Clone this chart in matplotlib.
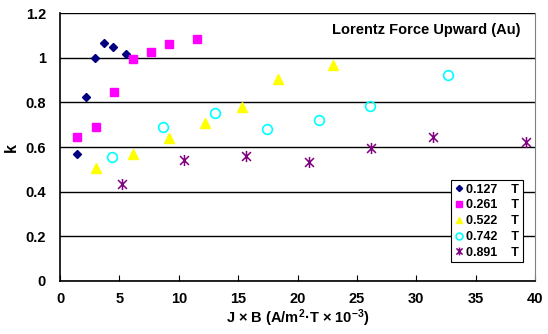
import matplotlib
matplotlib.use('Agg')
import matplotlib.pyplot as plt
from matplotlib.path import Path

plt.rcParams['font.family'] = ['Liberation Sans', 'DejaVu Sans']
plt.rcParams['font.weight'] = 'bold'
plt.rcParams['mathtext.fontset'] = 'custom'
plt.rcParams['mathtext.rm'] = 'Liberation Sans:bold'
plt.rcParams['mathtext.bf'] = 'Liberation Sans:bold'
plt.rcParams['mathtext.default'] = 'bf'

# data
x_0127 = [1.46, 2.19, 2.95, 3.68, 4.43, 5.56]
k_0127 = [0.570, 0.825, 0.999, 1.066, 1.046, 1.017]
x_0261 = [1.46, 3.03, 4.57, 6.12, 7.66, 9.21, 11.51]
k_0261 = [0.646, 0.691, 0.846, 0.993, 1.026, 1.063, 1.084]
x_0522 = [3.03, 6.12, 9.21, 12.24, 15.33, 18.39, 23.0]
k_0522 = [0.508, 0.567, 0.642, 0.708, 0.779, 0.905, 0.966]
x_0742 = [4.35, 8.70, 13.05, 17.40, 21.78, 26.13, 32.7]
k_0742 = [0.554, 0.691, 0.754, 0.681, 0.721, 0.784, 0.922]
x_0891 = [5.22, 10.47, 15.69, 20.94, 26.16, 31.41, 39.27]
k_0891 = [0.434, 0.542, 0.561, 0.534, 0.597, 0.645, 0.624]

# Excel style star: X with a vertical bar
star = Path([(0, -1), (0, 1), (-0.8, -0.8), (0.8, 0.8), (-0.8, 0.8), (0.8, -0.8)],
            [Path.MOVETO, Path.LINETO, Path.MOVETO, Path.LINETO, Path.MOVETO, Path.LINETO])

fig = plt.figure(figsize=(5.48, 3.34), dpi=100)
ax = fig.add_axes([0.1095, 0.1587, 0.8668, 0.8023])

ax.plot(x_0127, k_0127, 'D', color='#000080', ms=4.5, ls='none', label='0.127    T')
ax.plot(x_0261, k_0261, 's', color='#FF00FF', ms=6, ls='none', label='0.261    T')
ax.plot(x_0522, k_0522, '^', color='#FFFF00', ms=7, ls='none', label='0.522    T')
ax.plot(x_0742, k_0742, 'o', mfc='none', mec='#00FFFF', mew=1.2, ms=7, ls='none', label='0.742    T')
ax.plot(x_0891, k_0891, marker=star, color='#800080', mew=1.1, ms=8, ls='none', label='0.891    T')

ax.set_xlim(0, 40)
ax.set_ylim(0, 1.2)
ax.set_xticks(range(0, 41, 5))
ax.set_yticks([0, 0.2, 0.4, 0.6, 0.8, 1.0, 1.2])
ax.set_yticklabels(['0', '0.2', '0.4', '0.6', '0.8', '1', '1.2'])
ax.yaxis.grid(True, color='black', lw=1)
ax.set_axisbelow(True)
ax.tick_params(axis='x', direction='in', length=4, labelsize=10.5, pad=8)
ax.tick_params(axis='y', length=0, labelsize=10.5, pad=10)
for lbl in ax.get_xticklabels() + ax.get_yticklabels():
    lbl.set_fontweight('bold')

ax.spines['top'].set_visible(False)
ax.spines['right'].set_color('#808080')
ax.spines['left'].set_lw(1.2)
ax.spines['bottom'].set_lw(1.2)

ax.set_xlabel('J \u00d7 B (A/m$^{2}$\u00b7T \u00d7 10$^{-3}$)', fontsize=10.5, fontweight='bold', labelpad=1)
ax.set_ylabel('k', fontsize=11.5, fontweight='bold', labelpad=5)

ax.text(0.97, 0.937, 'Lorentz Force Upward (Au)', transform=ax.transAxes,
        ha='right', va='center', fontsize=10.5, fontweight='bold')

leg = ax.legend(loc='upper right', bbox_to_anchor=(0.975, 0.377), borderaxespad=0,
                fancybox=False, edgecolor='black', framealpha=1,
                handlelength=0.6, handletextpad=0.3, labelspacing=0.3,
                borderpad=0.3, markerscale=0.7, prop={'weight': 'bold', 'size': 9})
leg.get_frame().set_linewidth(0.8)

fig.savefig('out.png', dpi=100)
